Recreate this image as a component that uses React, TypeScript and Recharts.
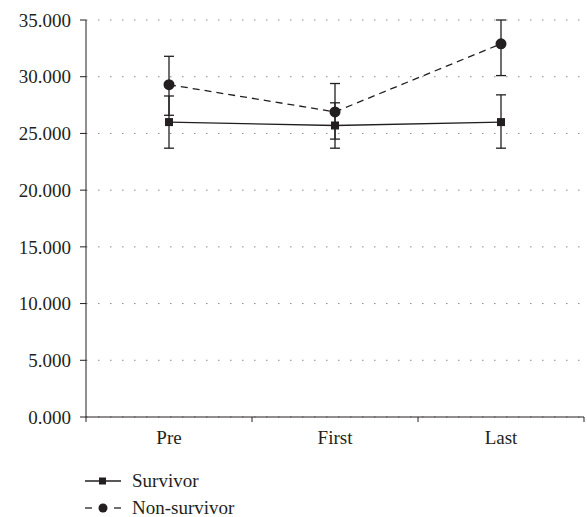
import { CartesianGrid, ErrorBar, Legend, Line, LineChart, XAxis, YAxis } from "recharts"

const categories = ["Pre", "First", "Last"]
const survivorMean = [26.0, 25.7, 26.0]
const survivorLow = [23.7, 23.7, 23.7]
const survivorHigh = [28.3, 27.7, 28.4]
const nonSurvivorMean = [29.3, 26.9, 32.9]
const nonSurvivorLow = [26.6, 24.5, 30.1]
const nonSurvivorHigh = [31.8, 29.4, 35.0]
const yTicks = [0, 5, 10, 15, 20, 25, 30, 35]

const INK = "#231f20"
const FONT = "Liberation Serif"
const FS = 19
const CHART_W = 587
const CHART_H = 517
const LEFT = 86
const RIGHT = 3
const BAND = (CHART_W - LEFT - RIGHT) / categories.length

const data = categories.map((name, i) => ({
    x: i + 0.5,
    name,
    survivor: survivorMean[i],
    nonSurvivor: nonSurvivorMean[i],
    survivorErr: [survivorMean[i] - survivorLow[i], survivorHigh[i] - survivorMean[i]],
    nonSurvivorErr: [nonSurvivorMean[i] - nonSurvivorLow[i], nonSurvivorHigh[i] - nonSurvivorMean[i]],
}))

const SquareDot = (props: any) => {
    const { cx, cy } = props
    if (cx == null || cy == null) return null
    return <rect x={cx - 4} y={cy - 4} width={8} height={8} fill={INK} />
}

const CircleDot = (props: any) => {
    const { cx, cy } = props
    if (cx == null || cy == null) return null
    return <circle cx={cx} cy={cy} r={5.5} fill={INK} />
}

const CategoryTick = (props: any) => {
    const { x, y, payload } = props
    const label = categories[payload.value]
    if (!label) return null
    return (
        <text x={x + BAND / 2} y={y} dy={20} textAnchor="middle" fill={INK} style={{ fontSize: FS, fontFamily: FONT }}>
            {label}
        </text>
    )
}

const LegendBox = () => (
    <div style={{ fontFamily: FONT, fontSize: FS, color: INK, height: 48, lineHeight: "27px" }}>
        <div style={{ display: "flex", alignItems: "center", height: 27 }}>
            <svg width={36} height={12} style={{ marginRight: 11 }}>
                <line x1={0} y1={6} x2={36} y2={6} stroke={INK} strokeWidth={1.3} />
                <rect x={14} y={2.5} width={7} height={7} fill={INK} />
            </svg>
            Survivor
        </div>
        <div style={{ display: "flex", alignItems: "center", height: 27 }}>
            <svg width={36} height={12} style={{ marginRight: 11 }}>
                <line x1={0} y1={6} x2={7} y2={6} stroke={INK} strokeWidth={1.3} />
                <circle cx={18} cy={6} r={4.5} fill={INK} />
                <line x1={29} y1={6} x2={36} y2={6} stroke={INK} strokeWidth={1.3} />
            </svg>
            Non-survivor
        </div>
    </div>
)

export default function App() {
    return (
        <div style={{ position: "absolute", left: 0, top: 0, width: CHART_W, height: CHART_H, background: "#fff", fontFamily: FONT }}>
            <LineChart
                width={CHART_W}
                height={CHART_H}
                data={data}
                margin={{ top: 20, right: RIGHT, left: 0, bottom: 22 }}
            >
                <CartesianGrid vertical={false} stroke="#8a8a8a" strokeDasharray="1.5 10.5" />
                <XAxis
                    dataKey="x"
                    type="number"
                    domain={[0, 3]}
                    ticks={[0, 1, 2, 3]}
                    tick={<CategoryTick />}
                    tickSize={5}
                    height={30}
                    stroke={INK}
                    interval={0}
                />
                <YAxis
                    domain={[0, 35]}
                    ticks={yTicks}
                    width={LEFT}
                    tickSize={6}
                    tickMargin={9}
                    tickFormatter={(v: number) => v.toFixed(3)}
                    tick={{ fill: INK, style: { fontSize: FS, fontFamily: FONT } }}
                    stroke={INK}
                />
                <Legend
                    verticalAlign="bottom"
                    content={<LegendBox />}
                    wrapperStyle={{ top: 467, bottom: "auto", left: 85, width: 300 }}
                />
                <Line
                    dataKey="survivor"
                    stroke={INK}
                    strokeWidth={1.3}
                    dot={<SquareDot />}
                    isAnimationActive={false}
                >
                    <ErrorBar dataKey="survivorErr" width={5} stroke={INK} strokeWidth={1.3} direction="y" />
                </Line>
                <Line
                    dataKey="nonSurvivor"
                    stroke={INK}
                    strokeWidth={1.3}
                    strokeDasharray="7 5"
                    dot={<CircleDot />}
                    isAnimationActive={false}
                >
                    <ErrorBar dataKey="nonSurvivorErr" width={5} stroke={INK} strokeWidth={1.3} direction="y" />
                </Line>
            </LineChart>
        </div>
    )
}
